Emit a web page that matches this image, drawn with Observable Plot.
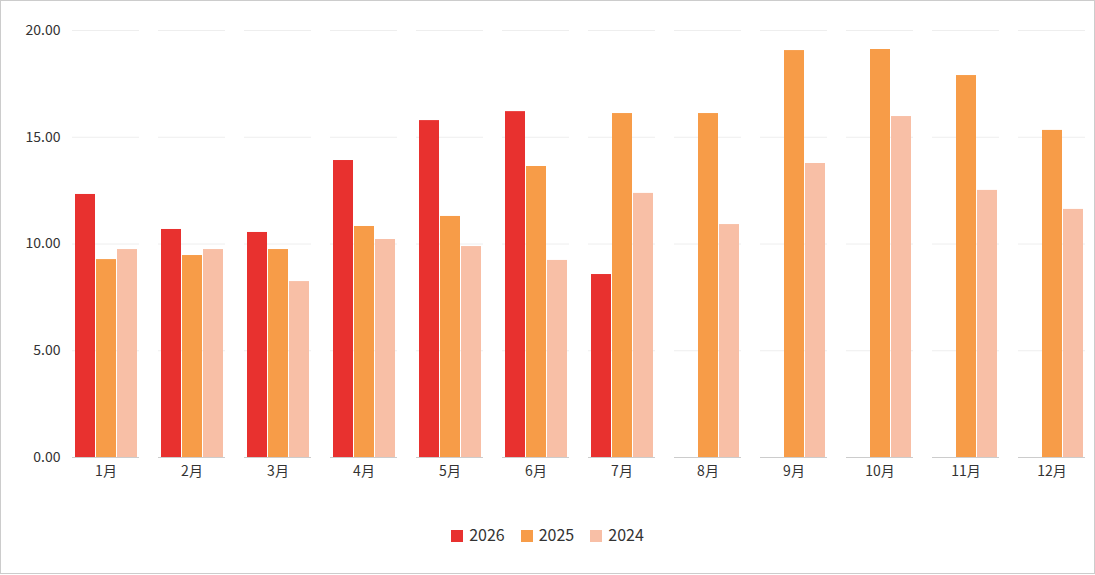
<!DOCTYPE html>
<html><head><meta charset="utf-8">
<script src="https://cdn.jsdelivr.net/npm/d3@7"></script>
<script src="https://cdn.jsdelivr.net/npm/@observablehq/plot@0.6"></script>
<style>
body{margin:0;background:#fff;font-family:"Noto Sans CJK SC",sans-serif;}
#wrap{position:absolute;left:0;top:0;width:1093px;height:572px;border:1px solid #ccc;}
#legend{position:absolute;top:521px;left:0;width:1093px;text-align:center;font-size:16px;color:#333;}
#legend span{display:inline-block;margin:0 8px;}
#legend i{display:inline-block;width:12px;height:12px;margin-right:6px;vertical-align:-1px;}
</style></head><body>
<div id="wrap"><div id="chart"></div><div id="legend"></div></div>
<script>
const months=["1月","2月","3月","4月","5月","6月","7月","8月","9月","10月","11月","12月"];
const seriesNames=["2026","2025","2024"];
const colors=["#e8312f","#f79c48","#f8bfa6"];
const v2026=[12.32,10.68,10.54,13.91,15.78,16.2,8.57,null,null,null,null,null];
const v2025=[9.27,9.46,9.74,10.82,11.29,13.63,16.11,16.11,19.06,19.11,17.89,15.32];
const v2024=[9.74,9.74,8.24,10.21,9.88,9.23,12.37,10.91,13.77,15.97,12.51,11.62];
const yTicks=[0,5,10,15,20];
const data=[];
[v2026,v2025,v2024].forEach((arr,i)=>arr.forEach((v,j)=>{if(v!=null)data.push({month:months[j],s:seriesNames[i],v});}));
const chart=Plot.plot({
  width:1093,height:490,marginTop:29,marginBottom:34,marginLeft:67,marginRight:5,
  style:{fontFamily:"Noto Sans CJK SC, sans-serif",fontSize:"14px",color:"#333"},
  fx:{domain:months,padding:0.22,label:null,axis:"bottom",tickSize:0},
  x:{domain:seriesNames,padding:0.06,axis:null},
  y:{domain:[0,20],ticks:yTicks,tickFormat:d=>d.toFixed(2),label:null,tickSize:0,grid:false},
  color:{domain:seriesNames,range:colors},
  marks:[
    Plot.gridY(yTicks,{stroke:"#eee",strokeOpacity:1}),
    Plot.axisY(yTicks,{tickFormat:d=>d.toFixed(2),tickSize:0,tickPadding:12,label:null}),
    Plot.barY(data,{fx:"month",x:"s",y:"v",fill:"s"}),
    Plot.ruleY([0],{stroke:"#ccc"})
  ]
});
document.getElementById("chart").appendChild(chart);
document.getElementById("legend").innerHTML=seriesNames.map((s,i)=>`<span><i style="background:${colors[i]}"></i>${s}</span>`).join("");
</script></body></html>
